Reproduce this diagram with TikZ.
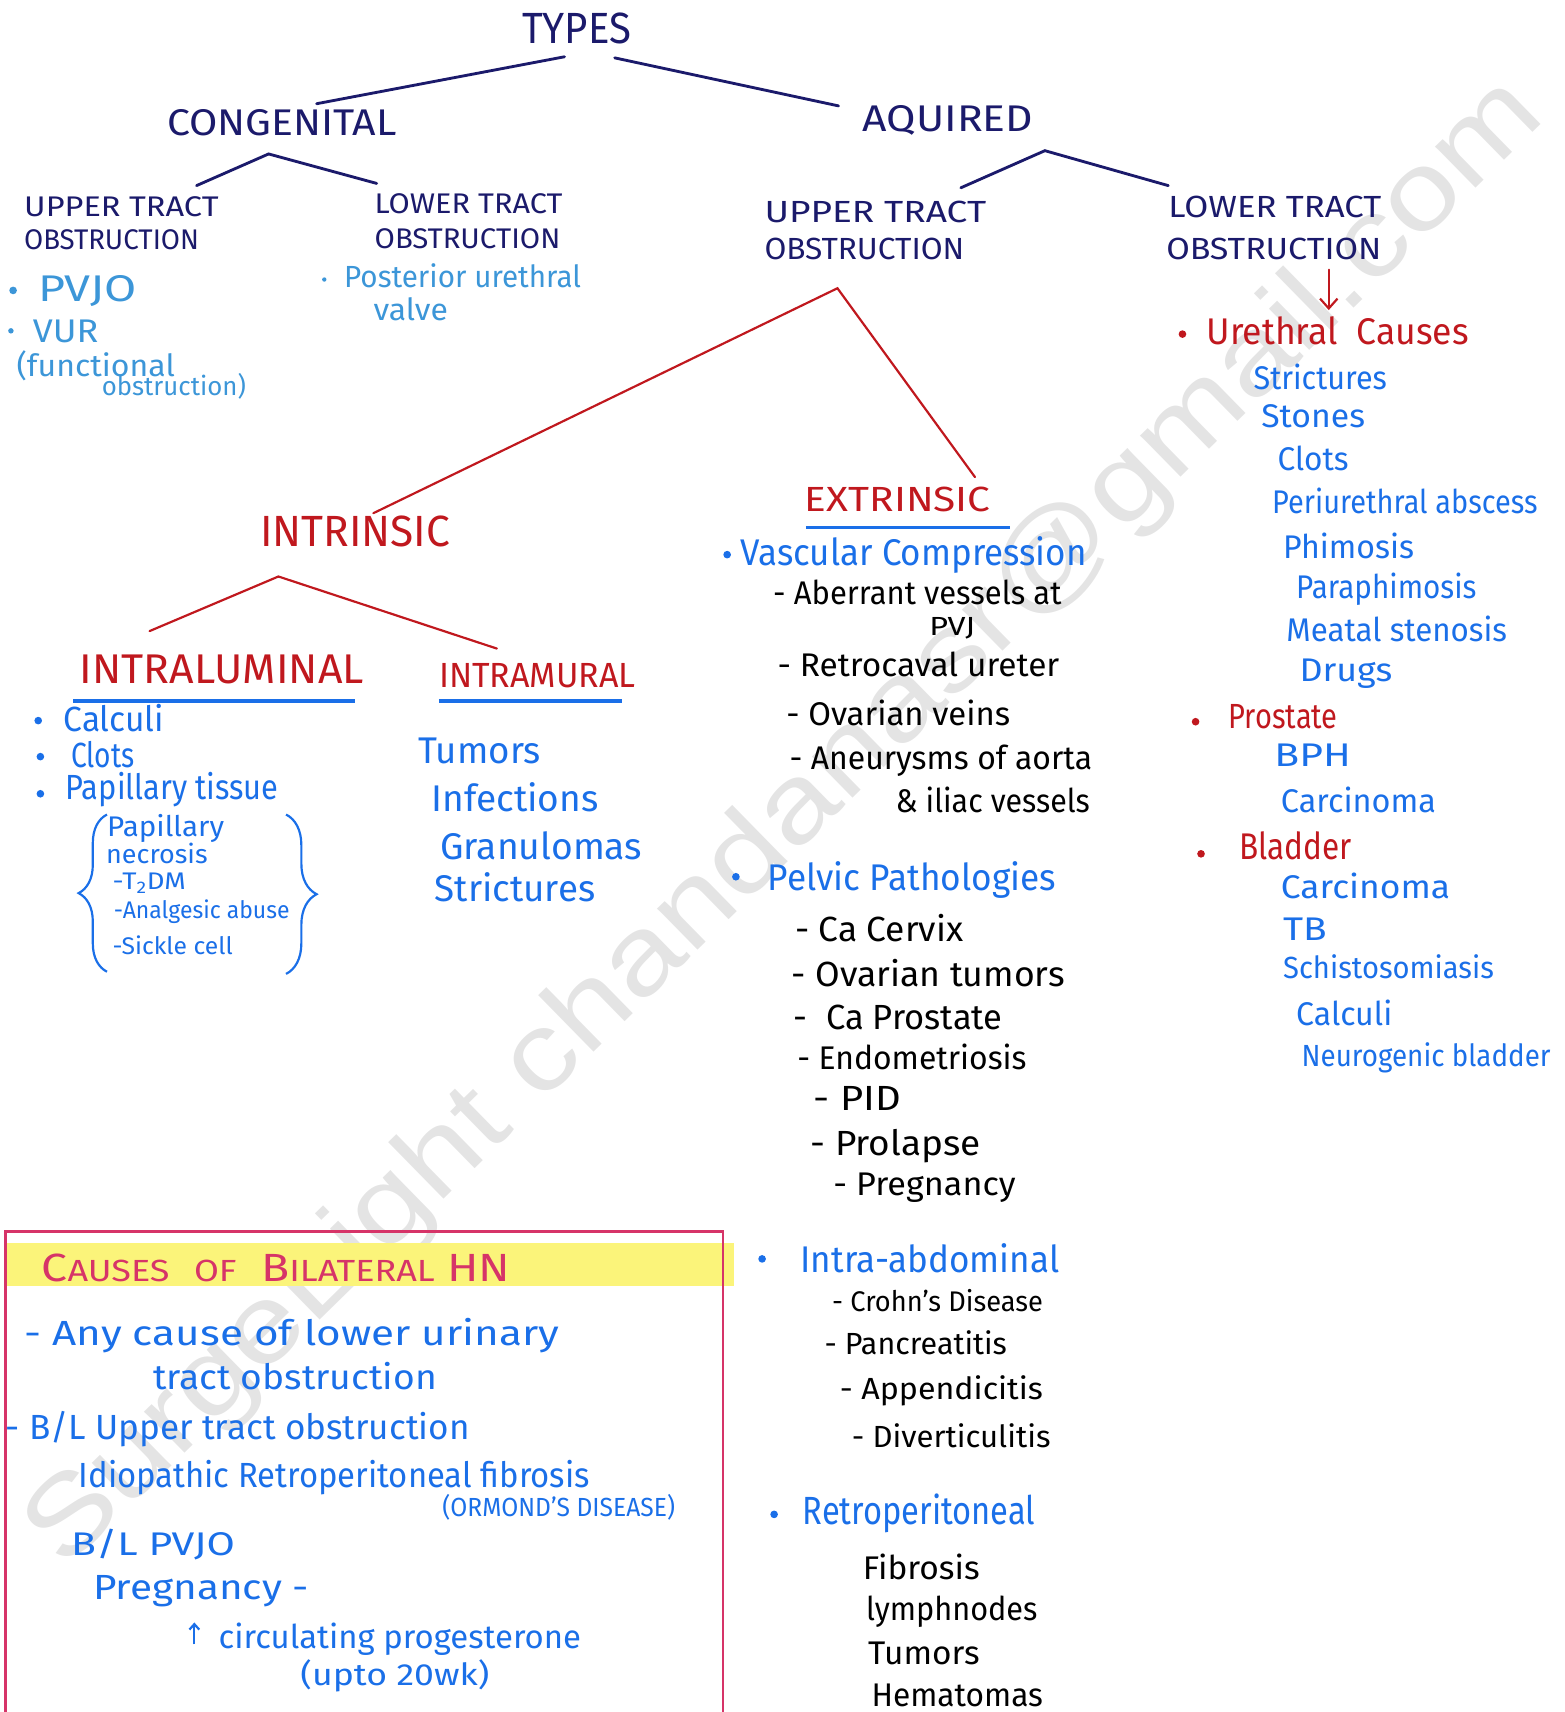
\documentclass[tikz,border=0pt]{standalone}
\usepackage{fontspec}
\setmainfont{Fira Sans}
\newfontfamily\wmfont{Liberation Sans}
\usetikzlibrary{arrows.meta,decorations.pathreplacing}
\definecolor{navy}{HTML}{1B1A6B}
\definecolor{redC}{HTML}{C0181E}
\definecolor{blueC}{HTML}{1A6FE8}
\definecolor{lblue}{HTML}{3C96D8}
\definecolor{crim}{HTML}{D63468}
\definecolor{hilite}{HTML}{FBF47A}
\definecolor{wm}{HTML}{E4E4E4}
\newcommand\fw[2]{\resizebox{#1pt}{\height}{#2}}
\tikzset{
 tx/.style={anchor=base west, inner sep=0pt, yshift={-0.32*#1}, font=\fontsize{#1}{#1}\selectfont},
 bul/.style={circle, fill=#1, inner sep=0pt, minimum size=7pt},
 nvline/.style={draw=navy, line width=2.6pt, line cap=round},
 rdline/.style={draw=redC, line width=2pt, line cap=round},
 uline/.style={draw=blueC, line width=3pt},
 brc/.style={decorate, decoration={brace, amplitude=#1}, draw=blueC, line width=2pt},
}
\begin{document}
\begin{tikzpicture}[x=1pt,y=-1pt]
\useasboundingbox (0,0) rectangle (1433,1568);
% watermark
\node[rotate=44.4, inner sep=0pt, text=wm, font=\wmfont\fontsize{100}{100}\selectfont] (wmark) at (720,755) {\fw{1902}{SurgeLight chandanasr@gmail.com}};

% ---------- top tree ----------
\node[tx=40,text=navy] (types) at (478,27) {\fw{100}{TYPES}};
\node[tx=34,text=navy] (cong) at (153,113) {\fw{210}{CONGENITAL}};
\node[tx=34,text=navy] (acq) at (790,110) {\fw{156}{AQUIRED}};
\coordinate (t1) at (517,52); \coordinate (c1) at (290,95);
\coordinate (t2) at (563,53); \coordinate (a1) at (768,97);
\draw[nvline] (t1) -- (c1);
\draw[nvline] (t2) -- (a1);

\node[tx=26,text=navy] (cut1) at (22,190) {\fw{178}{UPPER TRACT}};
\node[tx=26,text=navy] (cut2) at (22,220) {\fw{160}{OBSTRUCTION}};
\node[tx=26,text=navy] (clt1) at (343,187) {\fw{172}{LOWER TRACT}};
\node[tx=26,text=navy] (clt2) at (343,219) {\fw{170}{OBSTRUCTION}};
\coordinate (cA) at (246,141); \coordinate (cL) at (180,170); \coordinate (cR) at (345,168);
\draw[nvline] (cL) -- (cA) -- (cR);

\node[tx=28,text=navy] (aut1) at (700,195) {\fw{203}{UPPER TRACT}};
\node[tx=28,text=navy] (aut2) at (700,229) {\fw{183}{OBSTRUCTION}};
\node[tx=28,text=navy] (alt1) at (1070,190) {\fw{195}{LOWER TRACT}};
\node[tx=28,text=navy] (alt2) at (1068,229) {\fw{197}{OBSTRUCTION}};
\coordinate (aA) at (957,138); \coordinate (aL) at (880,172); \coordinate (aR) at (1070,170);
\draw[nvline] (aL) -- (aA) -- (aR);

% congenital items
\node[bul=lblue] (b1) at (12,266) {};
\node[tx=34,text=lblue] (pvjo) at (35,265) {\fw{90}{PVJO}};
\node[bul=lblue,minimum size=5pt] (b2) at (10,303) {};
\node[tx=30,text=lblue] (vur) at (30,304) {\fw{60}{VUR}};
\node[tx=28,text=lblue] (func) at (15,336) {\fw{145}{(functional}};
\node[tx=24,text=lblue] (obst) at (93,355) {\fw{132}{obstruction)}};
\node[bul=lblue,minimum size=4pt] (b3) at (297,256) {};
\node[tx=28,text=lblue] (puv1) at (315,254) {\fw{217}{Posterior urethral}};
\node[tx=28,text=lblue] (puv2) at (342,285) {\fw{68}{valve}};

% ---------- acquired upper tract ----------
\coordinate (uA) at (767,264); \coordinate (uL) at (342,470); \coordinate (uR) at (893,437);
\draw[rdline] (uL) -- (uA) -- (uR);
\coordinate (arT) at (1217,247); \coordinate (arB) at (1217,284);
\draw[rdline, -{Straight Barb[length=9pt,width=16pt]}] (arT) -- (arB);

\node[tx=40,text=redC] (intr) at (238,488) {\fw{174}{INTRINSIC}};
\coordinate (iA) at (255,528); \coordinate (iL) at (137,578); \coordinate (iR) at (455,594);
\draw[rdline] (iL) -- (iA) -- (iR);
\node[tx=38,text=redC] (ilum) at (73,614) {\fw{260}{INTRALUMINAL}};
\draw[uline] (67,642) -- (325,642);
\node[tx=32,text=redC] (imur) at (402,619) {\fw{180}{INTRAMURAL}};
\draw[uline] (402,642) -- (570,642);

% intraluminal
\node[bul=blueC] (bl1) at (35,660) {};
\node[tx=32,text=blueC] (calc) at (58,660) {\fw{92}{Calculi}};
\node[bul=blueC] (bl2) at (37,693) {};
\node[tx=32,text=blueC] (clot) at (65,693) {\fw{58}{Clots}};
\node[bul=blueC] (bl3) at (37,727) {};
\node[tx=32,text=blueC] (papt) at (60,722) {\fw{195}{Papillary tissue}};
\draw[brc=26pt] (98,890) -- (98,746);
\draw[brc=28pt] (262,746) -- (262,892);
\node[tx=26,text=blueC] (pn1) at (98,758) {\fw{107}{Papillary}};
\node[tx=24,text=blueC] (pn2) at (97,783) {\fw{93}{necrosis}};
\node[tx=22,text=blueC] (pn3) at (103,808) {\fw{67}{-T\textsubscript{2}DM}};
\node[tx=22,text=blueC] (pn4) at (104,834) {\fw{161}{-Analgesic abuse}};
\node[tx=22,text=blueC] (pn5) at (103,867) {\fw{110}{-Sickle cell}};

% intramural
\node[tx=34,text=blueC] (im1) at (383,688) {\fw{112}{Tumors}};
\node[tx=34,text=blueC] (im2) at (395,732) {\fw{153}{Infections}};
\node[tx=34,text=blueC] (im3) at (403,776) {\fw{185}{Granulomas}};
\node[tx=34,text=blueC] (im4) at (398,815) {\fw{147}{Strictures}};

% extrinsic
\node[tx=32,text=redC] (extr) at (737,458) {\fw{170}{EXTRINSIC}};
\draw[uline] (738,483) -- (925,483);
\node[bul=blueC] (bv) at (666,508) {};
\node[tx=34,text=blueC] (vasc) at (678,507) {\fw{317}{Vascular Compression}};
\node[tx=30] (v1) at (708,544) {\fw{264}{- Aberrant vessels at}};
\node[tx=24] (v1b) at (851,574) {\fw{42}{PVJ}};
\node[tx=30] (v2) at (712,610) {\fw{258}{- Retrocaval ureter}};
\node[tx=30] (v3) at (720,655) {\fw{205}{- Ovarian veins}};
\node[tx=30] (v4) at (723,695) {\fw{277}{- Aneurysms of aorta}};
\node[tx=30] (v4b) at (820,735) {\fw{178}{\& iliac vessels}};

\node[bul=blueC] (bp) at (674,803) {};
\node[tx=34,text=blueC] (pelv) at (703,805) {\fw{264}{Pelvic Pathologies}};
\node[tx=32] (p1) at (728,852) {\fw{154}{- Ca Cervix}};
\node[tx=32] (p2) at (725,893) {\fw{250}{- Ovarian tumors}};
\node[tx=32] (p3) at (727,933) {\fw{191}{-\ \ Ca Prostate}};
\node[tx=30] (p4) at (730,970) {\fw{210}{- Endometriosis}};
\node[tx=32] (p5) at (745,1007) {\fw{80}{- PID}};
\node[tx=32] (p6) at (742,1048) {\fw{156}{- Prolapse}};
\node[tx=30] (p7) at (763,1085) {\fw{167}{- Pregnancy}};

\node[bul=blueC] (ba) at (698,1153) {};
\node[tx=34,text=blueC] (iabd) at (733,1155) {\fw{237}{Intra-abdominal}};
\node[tx=26] (ia1) at (762,1193) {\fw{193}{- Crohn's Disease}};
\node[tx=28] (ia2) at (755,1232) {\fw{167}{- Pancreatitis}};
\node[tx=28] (ia3) at (769,1273) {\fw{186}{- Appendicitis}};
\node[tx=28] (ia4) at (780,1317) {\fw{182}{- Diverticulitis}};

\node[bul=blueC] (br) at (709,1387) {};
\node[tx=36,text=blueC] (retr) at (735,1385) {\fw{213}{Retroperitoneal}};
\node[tx=30] (r1) at (790,1437) {\fw{107}{Fibrosis}};
\node[tx=30] (r2) at (793,1475) {\fw{157}{lymphnodes}};
\node[tx=30] (r3) at (795,1515) {\fw{102}{Tumors}};
\node[tx=30] (r4) at (798,1553) {\fw{157}{Hematomas}};

% ---------- acquired lower tract ----------
\node[bul=redC] (bu) at (1083,306) {};
\node[tx=34,text=redC] (ureth) at (1105,305) {\fw{240}{Urethral\ \ Causes}};
\node[tx=30,text=blueC] (u1) at (1148,347) {\fw{122}{Strictures}};
\node[tx=30,text=blueC] (u2) at (1155,382) {\fw{95}{Stones}};
\node[tx=30,text=blueC] (u3) at (1170,421) {\fw{65}{Clots}};
\node[tx=30,text=blueC] (u4) at (1165,461) {\fw{243}{Periurethral abscess}};
\node[tx=30,text=blueC] (u5) at (1175,502) {\fw{120}{Phimosis}};
\node[tx=30,text=blueC] (u6) at (1187,539) {\fw{165}{Paraphimosis}};
\node[tx=30,text=blueC] (u7) at (1178,578) {\fw{202}{Meatal stenosis}};
\node[tx=30,text=blueC] (u8) at (1190,615) {\fw{85}{Drugs}};

\node[bul=redC] (bpr) at (1095,661) {};
\node[tx=32,text=redC] (pros) at (1125,657) {\fw{100}{Prostate}};
\node[tx=30,text=blueC] (pr1) at (1167,692) {\fw{70}{BPH}};
\node[tx=30,text=blueC] (pr2) at (1173,735) {\fw{142}{Carcinoma}};

\node[bul=redC] (bbl) at (1100,782) {};
\node[tx=34,text=redC] (blad) at (1135,776) {\fw{103}{Bladder}};
\node[tx=30,text=blueC] (bl1x) at (1173,813) {\fw{155}{Carcinoma}};
\node[tx=30,text=blueC] (bl2x) at (1175,852) {\fw{40}{TB}};
\node[tx=28,text=blueC] (bl3x) at (1175,887) {\fw{193}{Schistosomiasis}};
\node[tx=30,text=blueC] (bl4x) at (1187,930) {\fw{88}{Calculi}};
\node[tx=28,text=blueC] (bl5x) at (1192,968) {\fw{228}{Neurogenic bladder}};

% ---------- bilateral HN box ----------
\fill[hilite] (5,1138) rectangle (672,1178);
\draw[crim, line width=2.2pt] (5,1568) -- (5,1128) -- (662,1128) -- (662,1568);
\node[tx=36,text=crim] (bhn) at (38,1162) {\fw{429}{C{\fontsize{28}{28}\selectfont AUSES}\ \ {\fontsize{28}{28}\selectfont OF}\ \ B{\fontsize{28}{28}\selectfont ILATERAL} HN}};
\node[tx=32,text=blueC] (h1) at (22,1222) {\fw{490}{- Any cause of lower urinary}};
\node[tx=32,text=blueC] (h1b) at (140,1262) {\fw{260}{tract obstruction}};
\node[tx=32,text=blueC] (h2) at (5,1308) {\fw{425}{- B/L Upper tract obstruction}};
\node[tx=32,text=blueC] (h3) at (72,1352) {\fw{468}{Idiopathic Retroperitoneal fibrosis}};
\node[tx=24,text=blueC] (h3b) at (405,1381) {\fw{213}{(ORMOND'S DISEASE)}};
\node[tx=30,text=blueC] (h4) at (65,1415) {\fw{150}{B/L PVJO}};
\node[tx=32,text=blueC] (h5) at (85,1455) {\fw{198}{Pregnancy -}};
\coordinate (upB) at (178,1506); \coordinate (upT) at (178,1486);
\draw[blueC, line width=2pt, -{Straight Barb[length=5pt,width=9pt]}] (upB) -- (upT);
\node[tx=30,text=blueC] (h6) at (200,1500) {\fw{332}{circulating progesterone}};
\node[tx=28,text=blueC] (h7) at (275,1535) {\fw{173}{(upto 20wk)}};
\end{tikzpicture}
\end{document}
